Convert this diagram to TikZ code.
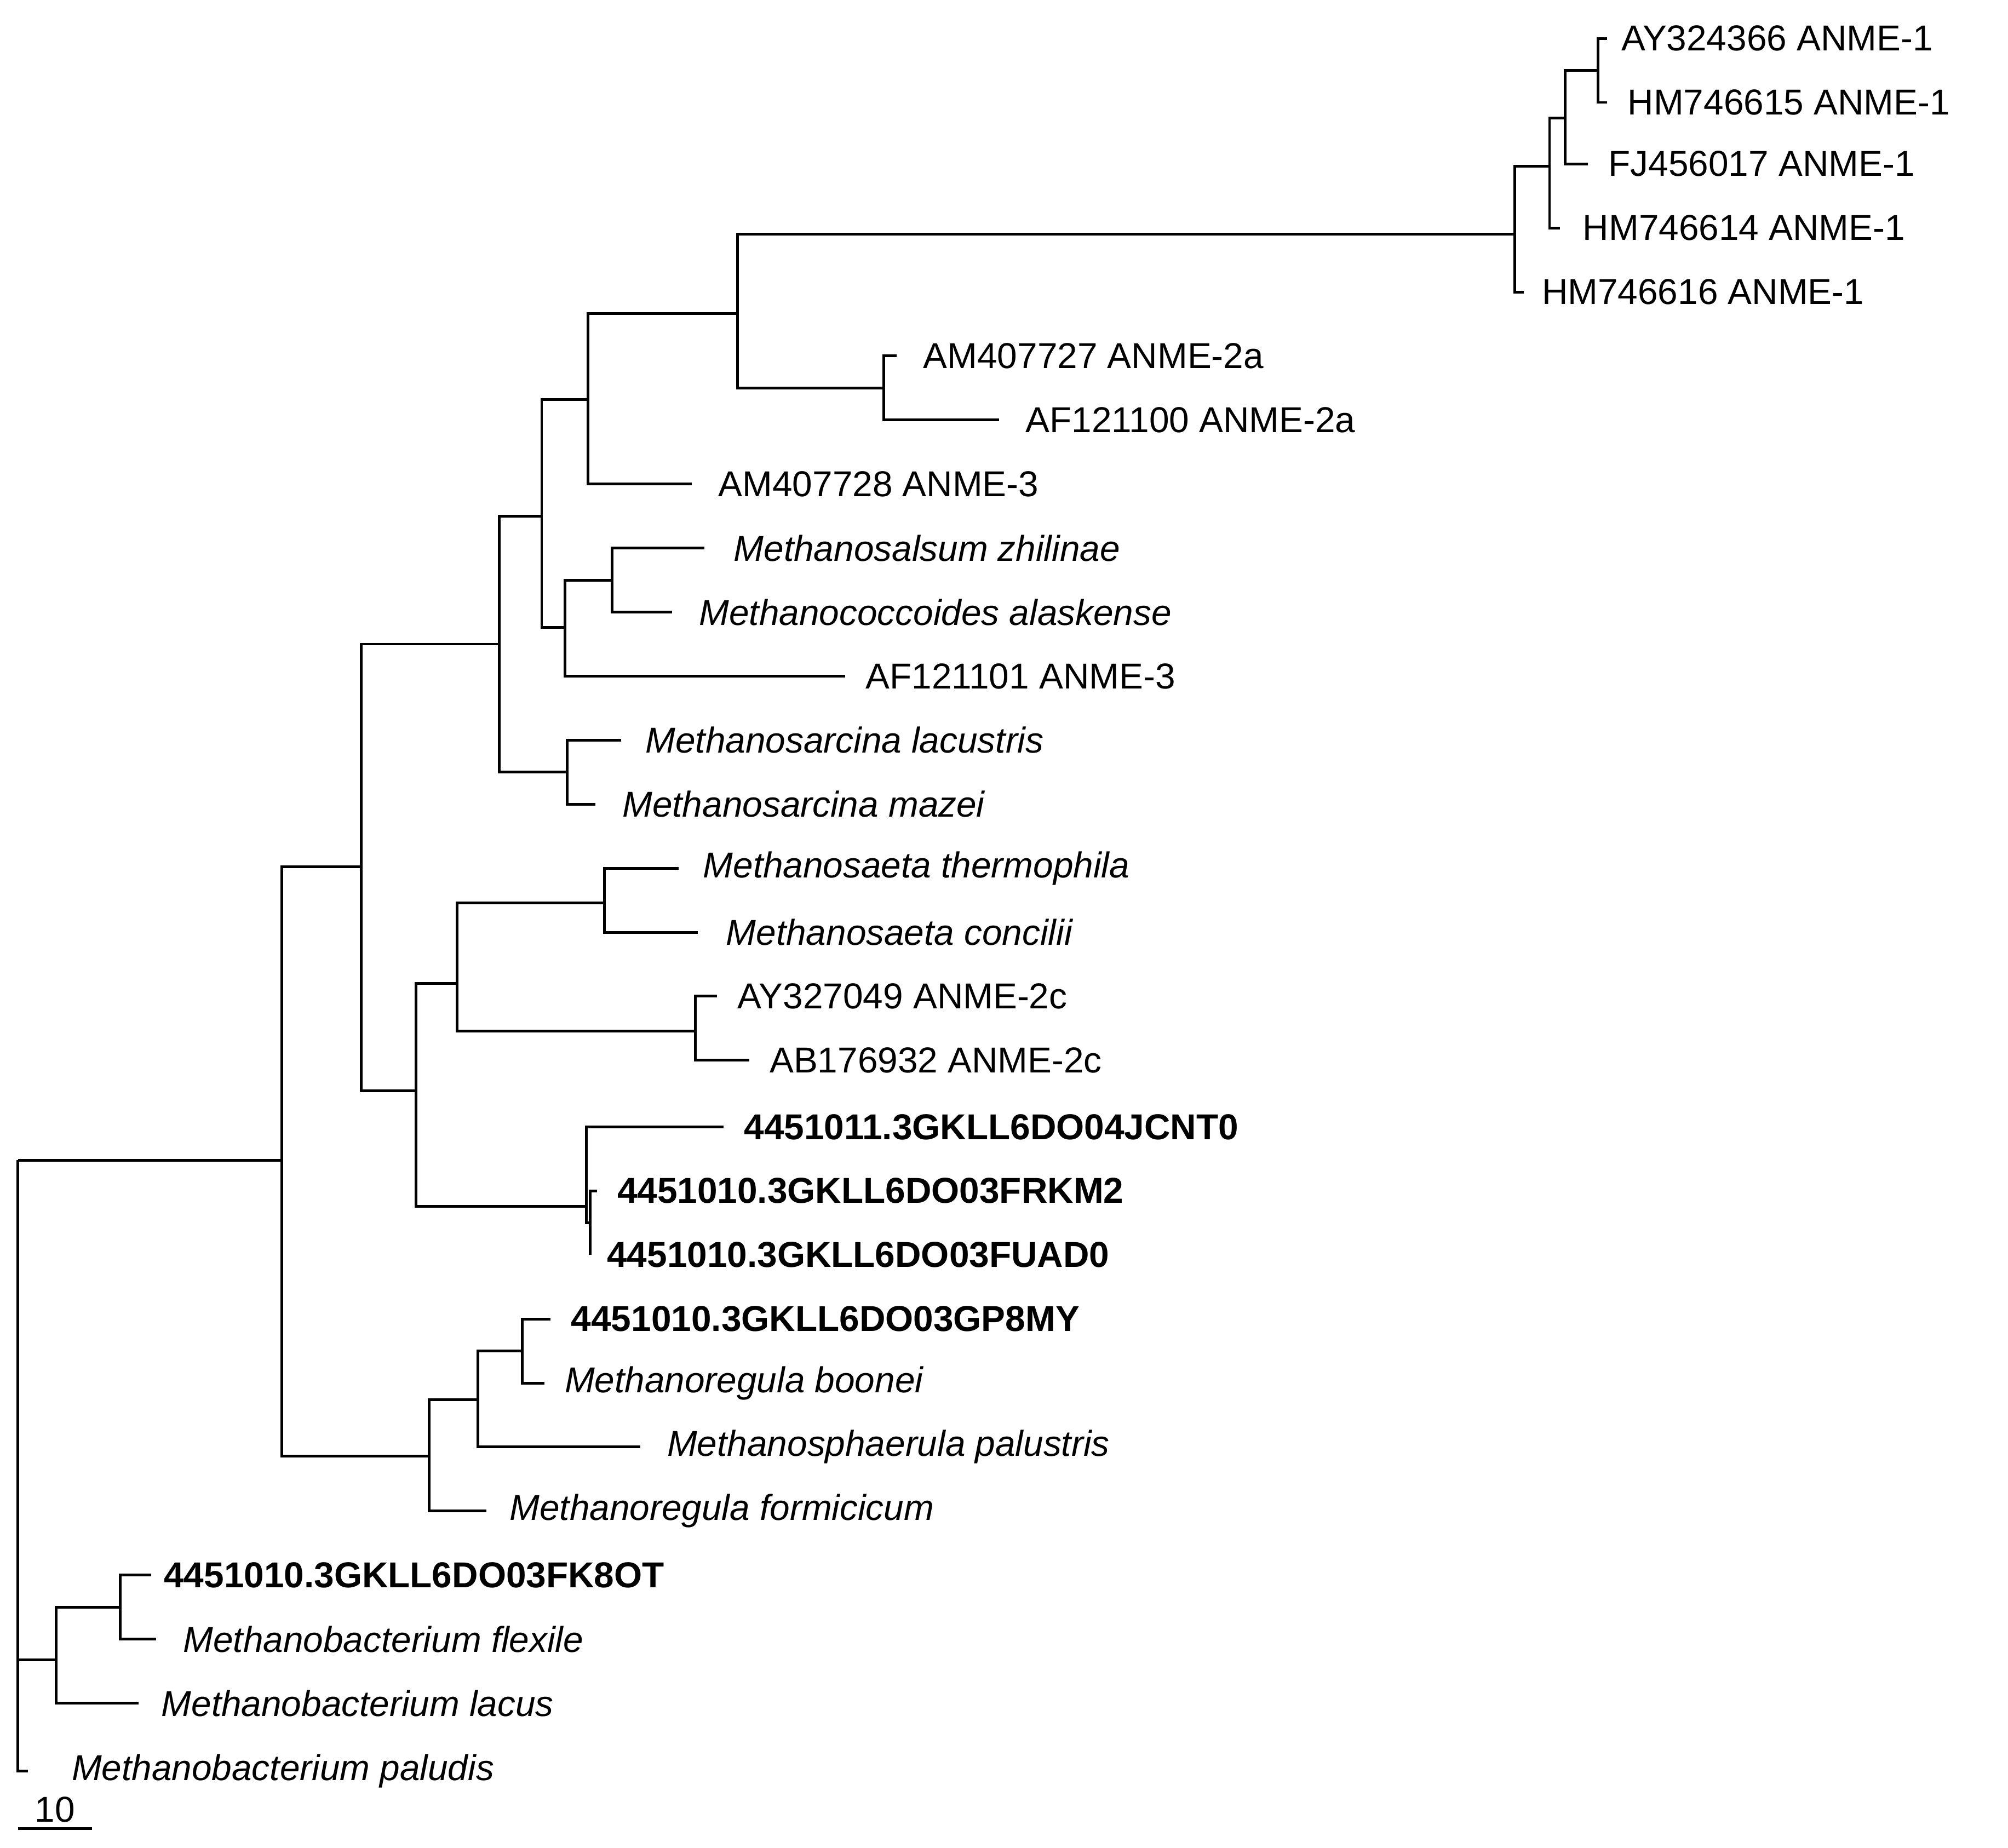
\documentclass[tikz,border=0pt]{standalone}
\usepackage{fontspec}
\setmainfont{Liberation Sans}
\begin{document}
\begin{tikzpicture}[x=0.1mm,y=-0.1mm,line width=0.6pt,
 lab/.style={anchor=west,inner sep=0pt,font=\fontsize{8}{9}\selectfont},
 it/.style={lab,font=\fontsize{8}{9}\selectfont\itshape},
 bd/.style={lab,font=\fontsize{8}{9}\selectfont\bfseries}]
\useasboundingbox (0,0) rectangle (1568,1443);
% internal nodes
\coordinate (r) at (14,906);
\coordinate (n220) at (220,906);
\coordinate (n44) at (44,1296);
\coordinate (n94) at (94,1255);
\coordinate (n282) at (282,677);
\coordinate (n390) at (390,503);
\coordinate (n423) at (423,403);
\coordinate (n459) at (459,312);
\coordinate (n576) at (576,245);
\coordinate (n1183) at (1183,183);
\coordinate (n1210) at (1210,130);
\coordinate (n1222) at (1222,92);
\coordinate (n1248) at (1248,55);
\coordinate (n690) at (690,303);
\coordinate (n441) at (441,490);
\coordinate (n478) at (478,453);
\coordinate (n443) at (443,603);
\coordinate (n325) at (325,852);
\coordinate (n357) at (357,768);
\coordinate (n472) at (472,705);
\coordinate (n543) at (543,805);
\coordinate (n458) at (458,942);
\coordinate (n461) at (461,955);
\coordinate (n335) at (335,1137);
\coordinate (n373) at (373,1093);
\coordinate (n408) at (408,1055);
% leaves
\coordinate (l1) at (1255,30);  \node[lab] (t1) at (1265,30) {AY324366 ANME-1};
\coordinate (l2) at (1255,80);  \node[lab] (t2) at (1270,80) {HM746615 ANME-1};
\coordinate (l3) at (1240,128); \node[lab] (t3) at (1255,128) {FJ456017 ANME-1};
\coordinate (l4) at (1218,178); \node[lab] (t4) at (1235,178) {HM746614 ANME-1};
\coordinate (l5) at (1190,228); \node[lab] (t5) at (1203,228) {HM746616 ANME-1};
\coordinate (l6) at (700,278);  \node[lab] (t6) at (720,278) {AM407727 ANME-2a};
\coordinate (l7) at (780,328);  \node[lab] (t7) at (800,328) {AF121100 ANME-2a};
\coordinate (l8) at (540,378);  \node[lab] (t8) at (560,378) {AM407728 ANME-3};
\coordinate (l9) at (550,428);  \node[it] (t9) at (572,428) {Methanosalsum zhilinae};
\coordinate (l10) at (525,478); \node[it] (t10) at (545,478) {Methanococcoides alaskense};
\coordinate (l11) at (660,528); \node[lab] (t11) at (675,528) {AF121101 ANME-3};
\coordinate (l12) at (485,578); \node[it] (t12) at (503,578) {Methanosarcina lacustris};
\coordinate (l13) at (465,628); \node[it] (t13) at (485,628) {Methanosarcina mazei};
\coordinate (l14) at (530,678); \node[it] (t14) at (548,678) {Methanosaeta thermophila};
\coordinate (l15) at (545,728); \node[it] (t15) at (566,728) {Methanosaeta concilii};
\coordinate (l16) at (560,778); \node[lab] (t16) at (575,778) {AY327049 ANME-2c};
\coordinate (l17) at (585,828); \node[lab] (t17) at (600,828) {AB176932 ANME-2c};
\coordinate (l18) at (565,880); \node[bd] (t18) at (580,880) {4451011.3GKLL6DO04JCNT0};
\coordinate (l19) at (466,930); \node[bd] (t19) at (481,930) {4451010.3GKLL6DO03FRKM2};
\coordinate (l20) at (461,980); \node[bd] (t20) at (473,980) {4451010.3GKLL6DO03FUAD0};
\coordinate (l21) at (430,1030); \node[bd] (t21) at (445,1030) {4451010.3GKLL6DO03GP8MY};
\coordinate (l22) at (425,1080); \node[it] (t22) at (440,1080) {Methanoregula boonei};
\coordinate (l23) at (500,1130); \node[it] (t23) at (520,1130) {Methanosphaerula palustris};
\coordinate (l24) at (380,1180); \node[it] (t24) at (397,1180) {Methanoregula formicicum};
\coordinate (l25) at (118,1230); \node[bd] (t25) at (127,1230) {4451010.3GKLL6DO03FK8OT};
\coordinate (l26) at (122,1280); \node[it] (t26) at (142,1280) {Methanobacterium flexile};
\coordinate (l27) at (108,1330); \node[it] (t27) at (125,1330) {Methanobacterium lacus};
\coordinate (l28) at (22,1383); \node[it] (t28) at (55,1383) {Methanobacterium paludis};
% edges
\draw (r) |- (n220); \draw (r) |- (n44); \draw (r) |- (l28);
\draw (n44) |- (n94); \draw (n44) |- (l27);
\draw (n94) |- (l25); \draw (n94) |- (l26);
\draw (n220) |- (n282); \draw (n220) |- (n335);
\draw (n282) |- (n390); \draw (n282) |- (n325);
\draw (n390) |- (n423); \draw (n390) |- (n443);
\draw (n423) |- (n459); \draw (n423) |- (n441);
\draw (n459) |- (n576); \draw (n459) |- (l8);
\draw (n576) |- (n1183); \draw (n576) |- (n690);
\draw (n690) |- (l6); \draw (n690) |- (l7);
\draw (n1183) |- (n1210); \draw (n1183) |- (l5);
\draw (n1210) |- (n1222); \draw (n1210) |- (l4);
\draw (n1222) |- (n1248); \draw (n1222) |- (l3);
\draw (n1248) |- (l1); \draw (n1248) |- (l2);
\draw (n441) |- (n478); \draw (n441) |- (l11);
\draw (n478) |- (l9); \draw (n478) |- (l10);
\draw (n443) |- (l12); \draw (n443) |- (l13);
\draw (n325) |- (n357); \draw (n325) |- (n458);
\draw (n357) |- (n472); \draw (n357) |- (n543);
\draw (n472) |- (l14); \draw (n472) |- (l15);
\draw (n543) |- (l16); \draw (n543) |- (l17);
\draw (n458) |- (l18); \draw (n458) |- (n461);
\draw (n461) |- (l19); \draw (n461) |- (l20);
\draw (n335) |- (n373); \draw (n335) |- (l24);
\draw (n373) |- (n408); \draw (n373) |- (l23);
\draw (n408) |- (l21); \draw (n408) |- (l22);
% scale bar
\coordinate (s1) at (14,1428); \coordinate (s2) at (72,1428);
\draw (s1) -- (s2);
\node[lab,anchor=south] (sb) at (43,1424) {10};
\end{tikzpicture}
\end{document}
